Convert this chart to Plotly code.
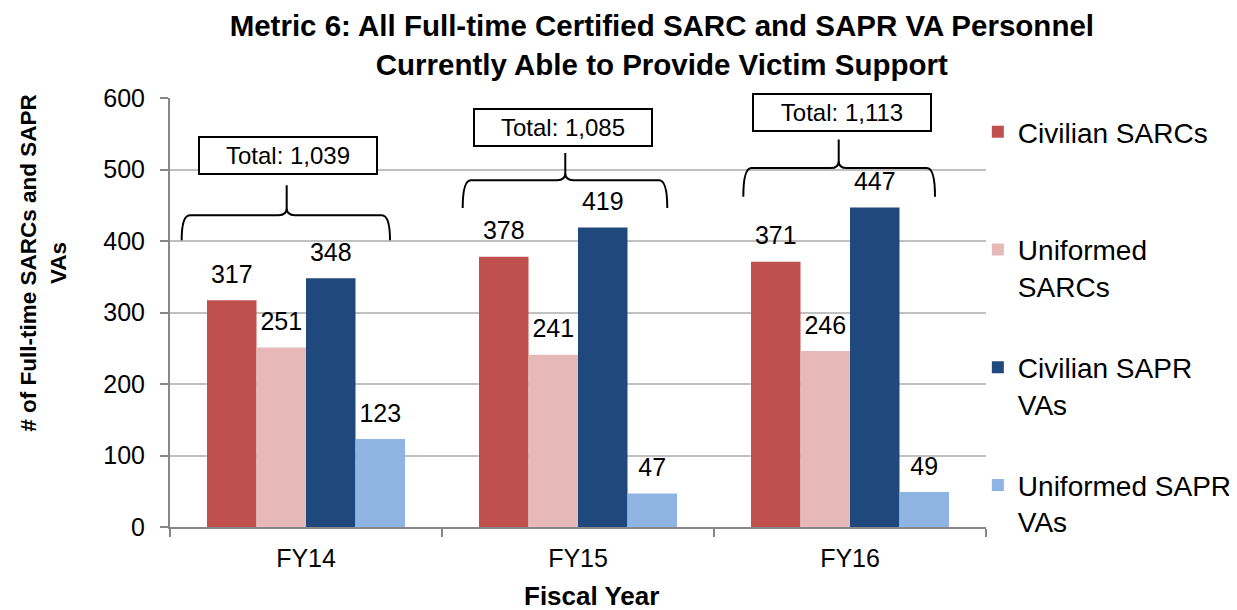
import plotly.graph_objects as go

# data
years = ["FY14", "FY15", "FY16"]
civilian_sarcs = [317, 378, 371]
uniformed_sarcs = [251, 241, 246]
civilian_sapr_vas = [348, 419, 447]
uniformed_sapr_vas = [123, 47, 49]
totals = ["Total: 1,039", "Total: 1,085", "Total: 1,113"]

series = [
    ("Civilian SARCs<br> ", civilian_sarcs, "#C0504D"),
    ("Uniformed<br>SARCs", uniformed_sarcs, "#E6B9B8"),
    ("Civilian SAPR<br>VAs", civilian_sapr_vas, "#1F497D"),
    ("Uniformed SAPR<br>VAs", uniformed_sapr_vas, "#8EB4E3"),
]

FONT = "Arial, Liberation Sans, sans-serif"
AXIS_GREY = "#878787"

fig = go.Figure()
for i, (name, vals, color) in enumerate(series):
    fig.add_trace(go.Bar(
        x=years,
        y=vals,
        name=name,
        legendgroup=str(i),
        marker=dict(color=color, line=dict(width=0)),
    ))

# value labels, grouped the same way as the bars
for i, (name, vals, color) in enumerate(series):
    fig.add_trace(go.Scatter(
        x=years,
        y=vals,
        mode="markers+text",
        text=[str(v) for v in vals],
        textposition="top center",
        textfont=dict(size=25, color="black", family=FONT),
        marker=dict(size=16, opacity=0),
        showlegend=False,
        hoverinfo="skip",
        cliponaxis=False,
    ))

# brace annotations (paper x, data y)
brace_left = [0.0143, 0.3587, 0.7026]
brace_tip = [0.143, 0.4844, 0.8195]
brace_right = [0.2696, 0.6094, 0.9375]
brace_bottom = [401, 446, 462]
brace_mid = [436, 485, 502]
brace_top = [478, 523, 542]
box_x = [0.145, 0.482, 0.823]
box_y = [520, 559, 580]

shapes = []
rx = 0.01
for xl, xm, xr, yb, yh, yt in zip(brace_left, brace_tip, brace_right,
                                  brace_bottom, brace_mid, brace_top):
    ym = yh + 10
    path = (f"M {xl},{yb} Q {xl},{yh} {xl + rx},{yh} "
            f"L {xm - rx},{yh} Q {xm},{yh} {xm},{ym} L {xm},{yt} "
            f"M {xm},{ym} Q {xm},{yh} {xm + rx},{yh} "
            f"L {xr - rx},{yh} Q {xr},{yh} {xr},{yb}")
    shapes.append(dict(type="path", path=path, xref="paper", yref="y",
                       line=dict(color="black", width=2), layer="above"))

annotations = []
for x, y, t in zip(box_x, box_y, totals):
    annotations.append(dict(
        x=x, y=y, xref="paper", yref="y", text=t, showarrow=False,
        font=dict(size=24, color="black", family=FONT),
        bordercolor="black", borderwidth=2, borderpad=4, width=168,
        bgcolor="white", xanchor="center", yanchor="middle",
    ))

# axis titles
annotations.append(dict(
    x=-0.155, y=0.615, xref="paper", yref="paper",
    text="<b># of Full-time SARCs and SAPR<br>VAs</b>", textangle=-90,
    showarrow=False, font=dict(size=22.5, color="black", family=FONT),
    xanchor="center", yanchor="middle",
))
annotations.append(dict(
    x=0.517, y=-0.16, xref="paper", yref="paper",
    text="<b>Fiscal Year</b>", showarrow=False,
    font=dict(size=26, color="black", family=FONT),
    xanchor="center", yanchor="middle",
))

# page body adds an 8px margin, so the figure is 8px smaller each way
fig.update_layout(
    width=1229,
    height=602,
    margin=dict(l=162, r=251, t=90, b=83, autoexpand=False),
    paper_bgcolor="white",
    plot_bgcolor="white",
    font=dict(family=FONT, size=25, color="black"),
    title=dict(
        text="<b>Metric 6: All Full-time Certified SARC and SAPR VA Personnel<br>"
             "Currently Able to Provide Victim Support</b>",
        x=0.532, xref="container", xanchor="center",
        y=0.953, yref="container", yanchor="top",
        font=dict(size=29.5, family=FONT, color="black"),
    ),
    barmode="group",
    bargap=0.272,
    bargroupgap=0,
    scattermode="group",
    scattergap=0.272,
    legend=dict(
        x=0.99, xanchor="left", y=0.979, yanchor="top",
        traceorder="grouped", tracegroupgap=42, valign="top",
        font=dict(size=28, family=FONT, color="black"),
        bgcolor="rgba(0,0,0,0)",
        maxheight=580,
    ),
    shapes=shapes,
    annotations=annotations,
    showlegend=True,
)

fig.update_yaxes(
    range=[0, 600], dtick=100,
    showgrid=True, gridcolor="#C0C0C0", gridwidth=1.5,
    showline=True, linecolor=AXIS_GREY, linewidth=2,
    ticks="outside", ticklen=8, tickcolor=AXIS_GREY, tickwidth=2,
    tickfont=dict(size=25, family=FONT, color="black"),
    zeroline=False, ticklabelstandoff=10,
)
fig.update_xaxes(
    type="category", tickson="boundaries",
    showgrid=False,
    showline=True, linecolor=AXIS_GREY, linewidth=2,
    ticks="outside", ticklen=8, tickcolor=AXIS_GREY, tickwidth=2,
    tickfont=dict(size=25, family=FONT, color="black"),
    ticklabelstandoff=8,
)

fig.write_html("out.html")
